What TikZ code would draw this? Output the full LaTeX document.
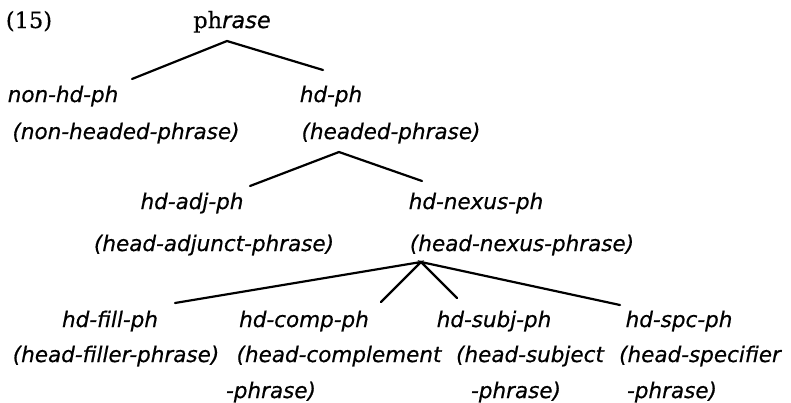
\documentclass[tikz,border=0pt]{standalone}
\usepackage{fontspec}
\newfontfamily\labfont{DejaVu Sans}[FakeBold=0.6]
\newfontfamily\serfont{DejaVu Serif}[FakeBold=0.3]
\tikzset{
  lab/.style={anchor=base, inner sep=0pt, font=\labfont\itshape\fontsize{21.5}{24}\selectfont},
  ser/.style={anchor=base, inner sep=0pt, font=\serfont\fontsize{22.5}{24}\selectfont},
  branch/.style={line width=2.2pt, line cap=round, line join=miter}
}
\begin{document}
\begin{tikzpicture}[x=1pt,y=-1pt]
\useasboundingbox (0,0) rectangle (791,402);
% row 1
\node[ser] (num) at (29,28) {(15)};
\node[ser] (phrase) at (232,28) {ph{\labfont\itshape rase}};
% row 2/3
\node[lab] (nonhd) at (63,102) {non-hd-ph};
\node[lab] (nonhdl) at (126,139) {(non-headed-phrase)};
\node[lab] (hd) at (331,102) {hd-ph};
\node[lab] (hdl) at (391,139) {(headed-phrase)};
% row 4/5
\node[lab] (adj) at (192,209) {hd-adj-ph};
\node[lab] (adjl) at (214,251) {(head-adjunct-phrase)};
\node[lab] (nexus) at (476,209) {hd-nexus-ph};
\node[lab] (nexusl) at (522,251) {(head-nexus-phrase)};
% row 6/7/8
\node[lab] (fill) at (110,327) {hd-fill-ph};
\node[lab] (filll) at (116,362) {(head-filler-phrase)};
\node[lab] (comp) at (304,327) {hd-comp-ph};
\node[lab] (compl) at (339,362) {(head-complement};
\node[lab] (compm) at (271,398) {-phrase)};
\node[lab] (subj) at (494,327) {hd-subj-ph};
\node[lab] (subjl) at (530,362) {(head-subject};
\node[lab] (subjm) at (516,398) {-phrase)};
\node[lab] (spc) at (679,327) {hd-spc-ph};
\node[lab] (spcl) at (700,362) {(head-specifier};
\node[lab] (spcm) at (672,398) {-phrase)};
% connector points
\coordinate (phrase-foot) at (227,41);
\coordinate (nonhd-top) at (132,79);
\coordinate (hd-top) at (323,70);
\coordinate (hdl-foot) at (339,152);
\coordinate (adj-top) at (250,186);
\coordinate (nexus-top) at (422,181);
\coordinate (nexusl-foot) at (421,262);
\coordinate (fill-top) at (175,303);
\coordinate (comp-top) at (381,302);
\coordinate (subj-top) at (457,298);
\coordinate (spc-top) at (620,305);
% connectors
\draw[branch] (nonhd-top) -- (phrase-foot) -- (hd-top);
\draw[branch] (adj-top) -- (hdl-foot) -- (nexus-top);
\draw[branch] (fill-top) -- (nexusl-foot) -- (comp-top);
\draw[branch] (subj-top) -- (nexusl-foot) -- (spc-top);
\end{tikzpicture}
\end{document}
